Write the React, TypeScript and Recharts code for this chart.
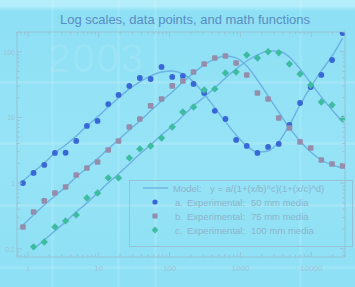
import React from "react";
import { ComposedChart, Line, Scatter, XAxis, YAxis } from "recharts";

// x positions shared by all three experiments
const X_VALUES = [
  0.85, 1.2, 1.7, 2.4, 3.4, 4.8, 6.8, 9.6, 13.6, 19, 27, 38, 54, 77, 109, 154,
  218, 308, 435, 615, 870, 1230, 1740, 2460, 3480, 4920, 6960, 9840, 13900,
  19700, 27800,
];

// model curves
const MODEL_A = [
  1.08, 1.48, 2.03, 2.88, 3.81, 5.23, 7.43, 10.2, 14.4, 19.8, 27.2, 34.7, 42.8,
  49.3, 51, 45.9, 34.7, 22.8, 14.0, 8.55, 5.42, 3.68, 2.98, 3.09, 4.24, 7.69,
  15.5, 29.1, 51, 86.3, 162,
];
const MODEL_B = [
  0.231, 0.328, 0.466, 0.638, 0.875, 1.24, 1.7, 2.34, 3.32, 4.54, 6.45, 8.85,
  12.6, 17.8, 24.4, 34.7, 47.6, 63, 77.7, 86.3, 80.5, 60.8, 37.2, 21.2, 12.1,
  6.92, 4.39, 2.98, 2.25, 1.89, 1.7,
];
const MODEL_C = [
  null, 0.0996, 0.136, 0.187, 0.257, 0.364, 0.5, 0.709, 1.01, 1.38, 1.96, 2.78,
  3.81, 5.42, 7.43, 10.5, 15.0, 20.5, 28.1, 39.9, 54.7, 72.4, 89.4, 103, 103,
  83.4, 54.7, 33.5, 20.5, 13.0, 8.55,
];

// experimental points
const EXP_A = [
  1.0, 1.43, 1.89, 2.88, 2.9, 4.39, 7.43, 8.85, 16.0, 22.0, 30.2, 39.9, 38.5,
  58.7, 41.4, 42.8, 32.4, 23.6, 12.6, 9.49, 4.54, 3.68, 2.88, 3.56, 3.95, 7.69,
  16.6, 29.1, 44.4, 75, 193,
];
const EXP_B = [
  0.215, 0.364, 0.536, 0.709, 0.875, 1.33, 1.7, 2.1, 3.2, 4.39, 7.17, 9.49, 15.0,
  19.1, 30.2, 35.9, 49.3, 65.2, 80.5, 86.3, 67.6, 44.4, 23.6, 19.1, 9.83, 6.92,
  4.24, 3.43, 2.25, 1.96, 1.83,
];
const EXP_C = [
  null, 0.107, 0.127, 0.215, 0.266, 0.328, 0.595, 0.709, 1.2, 1.2, 2.42, 3.32,
  3.68, 4.87, 7.17, 12.1, 14.4, 26.2, 27.2, 47.6, 49.3, 89.4, 80.5, 100, 96.7,
  65.2, 45.9, 31.2, 17.2, 15.5, 9.49,
];

const X_MAJOR = [1, 10, 100, 1000, 10000];
const Y_MAJOR = [0.1, 1, 10, 100];
const X_DOMAIN = [0.7, 30000];
const Y_DOMAIN = [0.075, 200];

const LEGEND_ITEMS = [
  ["a.", "Experimental:", "50 mm media"],
  ["b.", "Experimental:", "75 mm media"],
  ["c.", "Experimental:", "100 mm media"],
];
const MODEL_LABEL = ["Model:", "y = a/(1+(x/b)^c)(1+(x/c)^d)"];

const BG = "#8ee0f5";
const AXIS = "#96c2d6";
const LABEL = "#9cc4d6";
const LEGEND_TEXT = "#8cb4cc";
const CURVE = "#6cb2e2";
const COL_A = "#3868d6";
const COL_B = "#948eac";
const COL_C = "#3ebca2";
const FONT = "'Liberation Sans', Arial, sans-serif";

// minor ticks: 1..9 inside each decade, kept within the domain
const minorTicks = (majors: number[], lo: number, hi: number) => {
  const out: number[] = [];
  [majors[0] / 10, ...majors, majors[majors.length - 1] * 10].forEach((d) => {
    for (let m = 1; m < 10; m++) {
      const v = d * m;
      if (v >= lo && v <= hi) out.push(v);
    }
  });
  return out;
};
const xTicks = minorTicks(X_MAJOR, X_DOMAIN[0], X_DOMAIN[1]);
const yTicks = minorTicks(Y_MAJOR, Y_DOMAIN[0], Y_DOMAIN[1]);

const isMajor = (v: number, majors: number[]) =>
  majors.some((m) => Math.abs(v - m) / m < 1e-6);

const XTick = ({ x, y, payload, side }: any) => {
  const major = isMajor(payload.value, X_MAJOR);
  const len = major ? 5 : 2.5;
  const dir = side === "bottom" ? -1 : 1;
  return (
    <g>
      <line x1={x} x2={x} y1={y} y2={y + dir * len} stroke={AXIS} />
      {side === "bottom" && major && (
        <text x={x} y={y + 14} textAnchor="middle" fontSize={8} fill={LABEL} fontFamily={FONT}>
          {payload.value}
        </text>
      )}
    </g>
  );
};

const YTick = ({ x, y, payload, side }: any) => {
  const major = isMajor(payload.value, Y_MAJOR);
  const len = major ? 5 : 2.5;
  const dir = side === "left" ? 1 : -1;
  return (
    <g>
      <line x1={x} x2={x + dir * len} y1={y} y2={y} stroke={AXIS} />
      {side === "left" && major && (
        <text x={x - 2} y={y + 3} textAnchor="end" fontSize={7} fill={LABEL} fontFamily={FONT}>
          {payload.value}
        </text>
      )}
    </g>
  );
};

const chartData = X_VALUES.map((x, i) => ({
  x,
  ma: MODEL_A[i],
  mb: MODEL_B[i],
  mc: MODEL_C[i],
}));
const points = (vals: (number | null)[]) =>
  X_VALUES.map((x, i) => ({ x, y: vals[i] })).filter((d) => d.y != null);

const Dot = ({ cx, cy }: any) => <circle cx={cx} cy={cy} r={2.9} fill={COL_A} />;
const Square = ({ cx, cy }: any) => (
  <rect x={cx - 2.8} y={cy - 2.8} width={5.6} height={5.6} rx={1.2} fill={COL_B} />
);
const Diamond = ({ cx, cy }: any) => (
  <polygon
    points={`${cx},${cy - 3.7} ${cx + 3.7},${cy} ${cx},${cy + 3.7} ${cx - 3.7},${cy}`}
    fill={COL_C}
  />
);

const markers = [COL_A, COL_B, COL_C];

// faint light bands of the backdrop
const H_BANDS = [82, 143, 205, 267];
const V_BANDS = [52, 118, 155, 300];

export default function App() {
  return (
    <div
      style={{
        position: "absolute",
        left: 0,
        top: 0,
        width: 355,
        height: 287,
        overflow: "hidden",
        fontFamily: FONT,
        background: `linear-gradient(180deg, #b4eefa 0px, #b4eefa 6px, ${BG} 11px, #96e3f6 150px, ${BG} 287px)`,
      }}
    >
      {H_BANDS.map((y) => (
        <div
          key={`h${y}`}
          style={{ position: "absolute", left: 0, right: 0, top: y - 1, height: 3, background: "rgba(255,255,255,0.13)" }}
        />
      ))}
      {V_BANDS.map((x) => (
        <div
          key={`v${x}`}
          style={{ position: "absolute", top: 0, bottom: 0, left: x - 1, width: 3, background: "rgba(255,255,255,0.1)" }}
        />
      ))}
      <div
        style={{
          position: "absolute",
          left: 48,
          top: 36,
          fontSize: 40,
          color: "rgba(255,255,255,0.1)",
          letterSpacing: 2,
        }}
      >
        2003
      </div>
      <div
        style={{
          position: "absolute",
          left: 0,
          width: 370,
          top: 12,
          textAlign: "center",
          fontSize: 13,
          color: "#5a8cc2",
        }}
      >
        Log scales, data points, and math functions
      </div>
      <div style={{ position: "absolute", left: 0, top: 0 }}>
        <ComposedChart
          width={355}
          height={287}
          data={chartData}
          margin={{ top: 30, right: 8, bottom: 10, left: 0 }}
        >
          <XAxis
            dataKey="x"
            type="number"
            scale="log"
            domain={X_DOMAIN}
            allowDataOverflow
            ticks={xTicks}
            interval={0}
            tickLine={false}
            tickSize={0}
            tickMargin={0}
            height={20}
            axisLine={{ stroke: AXIS }}
            tick={(p: any) => <XTick {...p} side="bottom" />}
          />
          <XAxis
            xAxisId="top"
            orientation="top"
            dataKey="x"
            type="number"
            scale="log"
            domain={X_DOMAIN}
            allowDataOverflow
            ticks={xTicks}
            interval={0}
            tickLine={false}
            tickSize={0}
            tickMargin={0}
            height={2}
            axisLine={{ stroke: AXIS }}
            tick={(p: any) => <XTick {...p} side="top" />}
          />
          <YAxis
            type="number"
            scale="log"
            domain={Y_DOMAIN}
            allowDataOverflow
            ticks={yTicks}
            interval={0}
            tickLine={false}
            tickSize={0}
            tickMargin={0}
            width={17}
            axisLine={{ stroke: AXIS }}
            tick={(p: any) => <YTick {...p} side="left" />}
          />
          <YAxis
            yAxisId="right"
            orientation="right"
            type="number"
            scale="log"
            domain={Y_DOMAIN}
            allowDataOverflow
            ticks={yTicks}
            interval={0}
            tickLine={false}
            tickSize={0}
            tickMargin={0}
            width={2}
            axisLine={{ stroke: AXIS }}
            tick={(p: any) => <YTick {...p} side="right" />}
          />
          <Line type="monotone" dataKey="ma" stroke={CURVE} strokeWidth={1.4} dot={false} isAnimationActive={false} />
          <Line type="monotone" dataKey="mb" stroke={CURVE} strokeWidth={1.4} dot={false} isAnimationActive={false} />
          <Line type="monotone" dataKey="mc" stroke={CURVE} strokeWidth={1.4} dot={false} isAnimationActive={false} />
          <Scatter data={points(EXP_A)} dataKey="y" shape={Dot} isAnimationActive={false} />
          <Scatter data={points(EXP_B)} dataKey="y" shape={Square} isAnimationActive={false} />
          <Scatter data={points(EXP_C)} dataKey="y" shape={Diamond} isAnimationActive={false} />
        </ComposedChart>
      </div>
      {/* legend box */}
      <div
        style={{
          position: "absolute",
          left: 129,
          top: 180,
          width: 224,
          height: 67,
          border: `1px solid ${AXIS}`,
          boxSizing: "border-box",
        }}
      >
        <svg width={222} height={65} style={{ position: "absolute", left: 0, top: 0 }}>
          <line x1={13} x2={38} y1={7} y2={7} stroke={CURVE} strokeWidth={1.4} />
          <text x={43} y={10.5} fontSize={9.5} fill={LEGEND_TEXT} fontFamily={FONT}>
            {MODEL_LABEL[0]}
          </text>
          <text x={80} y={10.5} fontSize={9.5} fill={LEGEND_TEXT} fontFamily={FONT}>
            {MODEL_LABEL[1]}
          </text>
          {LEGEND_ITEMS.map((item, i) => {
            const cy = 21 + i * 14;
            const cx = 25;
            return (
              <g key={item[0]}>
                {i === 0 && <circle cx={cx} cy={cy} r={2.6} fill={markers[i]} />}
                {i === 1 && <rect x={cx - 2.6} y={cy - 2.6} width={5.2} height={5.2} rx={1} fill={markers[i]} />}
                {i === 2 && (
                  <polygon
                    points={`${cx},${cy - 3.4} ${cx + 3.4},${cy} ${cx},${cy + 3.4} ${cx - 3.4},${cy}`}
                    fill={markers[i]}
                  />
                )}
                <text x={45} y={cy + 3.5} fontSize={9.5} fill={LEGEND_TEXT} fontFamily={FONT}>
                  {item[0]}
                </text>
                <text x={57} y={cy + 3.5} fontSize={9.5} fill={LEGEND_TEXT} fontFamily={FONT}>
                  {item[1]}
                </text>
                <text x={121} y={cy + 3.5} fontSize={9.5} fill={LEGEND_TEXT} fontFamily={FONT}>
                  {item[2]}
                </text>
              </g>
            );
          })}
        </svg>
      </div>
    </div>
  );
}
